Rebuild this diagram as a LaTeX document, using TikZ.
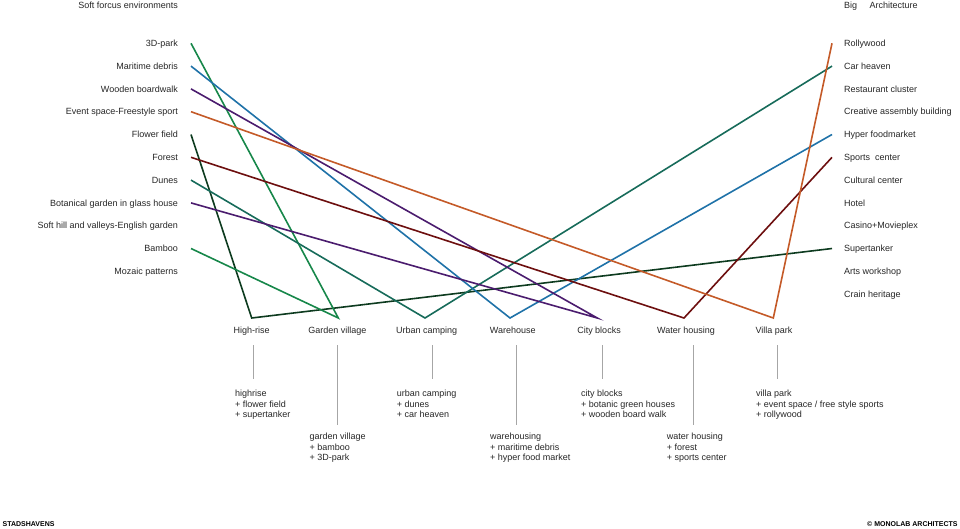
\documentclass[tikz,border=0pt]{standalone}
\usepackage{fontspec}
\setmainfont{Liberation Sans}
\definecolor{hrgreen}{HTML}{0D3B1F}
\definecolor{gvgreen}{HTML}{17874A}
\definecolor{ucteal}{HTML}{176B5A}
\definecolor{whblue}{HTML}{1F72A8}
\definecolor{cbpurple}{HTML}{4B1C6E}
\definecolor{wtred}{HTML}{6D0F0F}
\definecolor{vporange}{HTML}{C45A28}
\tikzset{
  lbl/.style={font=\fontsize{9}{10.7}\selectfont,inner sep=0pt,text=black!85},
  foot/.style={font=\fontsize{7}{8}\selectfont\bfseries,inner sep=0pt},
  stub/.style={draw=black!35,line width=0.9pt},
  mix/.style={line width=1.6pt},
}

\begin{document}
\begin{tikzpicture}[x=1pt,y=-1pt]
  \useasboundingbox (0,0) rectangle (960,528);
  % headers
  \node[lbl,anchor=base east] (hleft) at (178,8.2) {Soft forcus environments};
  \node[lbl,anchor=base west] (hbig) at (844,8.2) {Big};
  \node[lbl,anchor=base west] (harch) at (869.3,8.2) {Architecture};
  % soft side
  \foreach \t [count=\i] in {3D-park,Maritime debris,Wooden boardwalk,Event space-Freestyle sport,
      Flower field,Forest,Dunes,Botanical garden in glass house,Soft hill and valleys-English garden,
      Bamboo,Mozaic patterns}{
    \node[lbl,anchor=base east] (L\i) at (178,{46.5+22.8*(\i-1)}) {\t};
    \coordinate (a\i) at (191,{43.3+22.8*(\i-1)});}
  % big side
  \foreach \t [count=\i] in {Rollywood,Car heaven,Restaurant cluster,Creative assembly building,
      Hyper foodmarket,Sports\ \ center,Cultural center,Hotel,Casino+Movieplex,Supertanker,
      Arts workshop,Crain heritage}{
    \node[lbl,anchor=base west] (R\i) at (844,{46.5+22.8*(\i-1)}) {\t};
    \coordinate (b\i) at (832,{43.3+22.8*(\i-1)});}
  % typologies
  \foreach \t/\x/\lx [count=\i] in {High-rise/251.7/251.7,Garden village/338.3/337.3,
      Urban camping/425/426.7,Warehouse/510/512.7,City blocks/597.3/599,
      Water housing/684/686,Villa park/773.3/774}{
    \coordinate (v\i) at (\x,318);
    \node[lbl,anchor=base] (B\i) at (\lx,333.5) {\t};}
  % mixes
  \draw[mix,hrgreen] (a5) -- (v1) -- (b10);
  \draw[mix,gvgreen] (a10) -- (v2) -- (a1);
  \draw[mix,ucteal] (a7) -- (v3) -- (b2);
  \draw[mix,whblue] (a2) -- (v4) -- (b5);
  \draw[mix,cbpurple] (a3) -- (v5) -- (a8);
  \draw[mix,wtred] (a6) -- (v6) -- (b6);
  \draw[mix,vporange] (a4) -- (v7) -- (b1);
  % leaders
  \foreach \x/\e [count=\i] in {253/379,337/425,432/379,516/425,602/379,693/425,777/379}
    \draw[stub] (\x,345) coordinate (s\i) -- (\x,\e) coordinate (e\i);
  % recipes (base = last line)
  \node[lbl,anchor=base west,align=left] (m1) at (235,417.9) {highrise\\+ flower field\\+ supertanker};
  \node[lbl,anchor=base west,align=left] (m2) at (309.3,460.7) {garden village\\+ bamboo\\+ 3D-park};
  \node[lbl,anchor=base west,align=left] (m3) at (396.7,417.9) {urban camping\\+ dunes\\+ car heaven};
  \node[lbl,anchor=base west,align=left] (m4) at (490,460.7) {warehousing\\+ maritime debris\\+ hyper food market};
  \node[lbl,anchor=base west,align=left] (m5) at (581,417.9) {city blocks\\+ botanic green houses\\+ wooden board walk};
  \node[lbl,anchor=base west,align=left] (m6) at (666.7,460.7) {water housing\\+ forest\\+ sports center};
  \node[lbl,anchor=base west,align=left] (m7) at (756,417.9) {villa park\\+ event space / free style sports\\+ rollywood};
  % footer
  \node[foot,anchor=base west] (fl) at (2.5,526.5) {STADSHAVENS};
  \node[foot,anchor=base east] (fr) at (957.7,526.5) {© MONOLAB ARCHITECTS};
\end{tikzpicture}
\end{document}
